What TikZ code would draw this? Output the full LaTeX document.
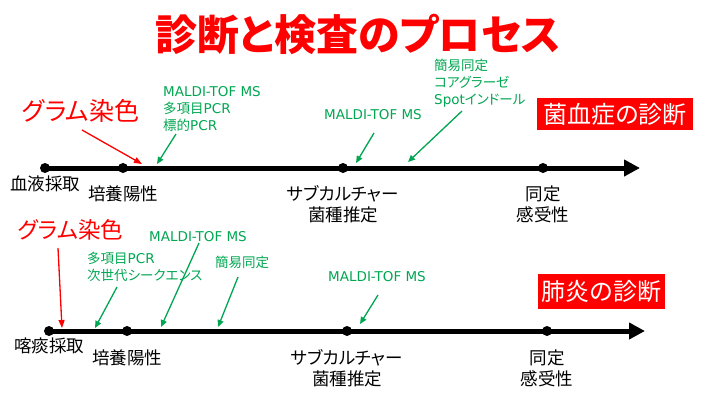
\documentclass[tikz,border=0pt]{standalone}
\usepackage{fontspec}
\setmainfont{Noto Sans CJK JP}[RawFeature=+palt]
\newfontfamily\latin{DejaVu Sans}
\usetikzlibrary{arrows.meta, positioning}
\definecolor{jred}{RGB}{255,0,0}
\definecolor{jgreen}{RGB}{0,166,81}
\tikzset{
  dot/.style={circle, fill=black, inner sep=0pt, minimum size=10pt},
  steplabel/.style={font=\fontsize{17.5}{21}\selectfont, align=center, inner sep=0pt},
  method/.style={text=jgreen, font=\fontsize{13.5}{17}\selectfont, align=left, inner sep=0pt},
  gram/.style={text=jred, inner sep=0pt, anchor=west},
  titletext/.style={text=jred, font=\fontsize{42}{46}\selectfont\bfseries, inner sep=0pt},
  timeline/.style={line width=5pt, -{Triangle[length=16pt, width=16pt]}},
  methodarrow/.style={draw=jgreen, line width=1.3pt, -{Triangle[length=7pt, width=6pt]}},
  gramarrow/.style={draw=jred, line width=1.3pt, -{Triangle[length=8pt, width=6pt]}},
  diagbox/.style={fill=jred, text=white, font=\fontsize{24}{26}\selectfont, inner sep=0pt},
}
\begin{document}
\begin{tikzpicture}[x=1pt, y=-1pt]
  \useasboundingbox (0,0) rectangle (720,405);
  %% title
  \node[titletext] (ttl) at (358,34) {診断と検査のプロセス};

  %% bacteremia timeline
  \node[dot] (bl) at (45,168) {};
  \node[dot] (bc1) at (123,168) {};
  \node[dot] (sc1) at (343,168) {};
  \node[dot] (id1) at (543,168) {};
  \coordinate (e1) at (640,168);
  \draw[timeline] (bl.center) -- (e1);
  \node[steplabel, below=2pt of bl] (bllab) {血液採取};
  \node[steplabel, below=12pt of bc1] (bc1lab) {培養陽性};
  \node[steplabel, below=12pt of sc1] (sc1lab) {サブカルチャー\\菌種推定};
  \node[steplabel, below=12pt of id1] (id1lab) {同定\\感受性};
  \node[diagbox, minimum width=156pt, minimum height=32pt] (dx1) at (615,114) {菌血症の診断};

  %% bacteremia tests
  \node[gram, font=\fontsize{25}{27}\selectfont] (gr1) at (22,111) {グラム染色};
  \coordinate (gr1s) at (82,130);
  \coordinate (gr1e) at (142,164);
  \draw[gramarrow] (gr1s) -- (gr1e);
  \node[method, anchor=north west] (m1) at (163,86)
    {{\latin MALDI-TOF MS}\\多項目{\latin PCR}\\標的{\latin PCR}};
  \coordinate (m1s) at (176,134);
  \coordinate (m1e) at (157,164);
  \draw[methodarrow] (m1s) -- (m1e);
  \node[method, anchor=west] (m2) at (324,115) {\latin MALDI-TOF MS};
  \coordinate (m2s) at (374,133);
  \coordinate (m2e) at (356,163);
  \draw[methodarrow] (m2s) -- (m2e);
  \node[method, anchor=north west] (m3) at (434,59)
    {簡易同定\\コアグラーゼ\\{\latin Spot}インドール};
  \coordinate (m3s) at (462,111);
  \coordinate (m3e) at (408,162);
  \draw[methodarrow] (m3s) -- (m3e);

  %% pneumonia timeline
  \node[dot] (sp) at (49,331) {};
  \node[dot] (bc2) at (127,331) {};
  \node[dot] (sc2) at (347,331) {};
  \node[dot] (id2) at (547,331) {};
  \coordinate (e2) at (645,331);
  \draw[timeline] (sp.center) -- (e2);
  \node[steplabel, below=1pt of sp] (splab) {喀痰採取};
  \node[steplabel, below=13pt of bc2] (bc2lab) {培養陽性};
  \node[steplabel, below=13pt of sc2] (sc2lab) {サブカルチャー\\菌種推定};
  \node[steplabel, below=13pt of id2] (id2lab) {同定\\感受性};
  \node[diagbox, minimum width=127pt, minimum height=35pt] (dx2) at (601.5,291.5) {肺炎の診断};

  %% pneumonia tests
  \node[gram, font=\fontsize{22.5}{24}\selectfont] (gr2) at (18,230) {グラム染色};
  \coordinate (gr2s) at (58,248);
  \coordinate (gr2e) at (62,328);
  \draw[gramarrow] (gr2s) -- (gr2e);
  \node[method, anchor=north west] (m4) at (87,252)
    {多項目{\latin PCR}\\次世代シークエンス};
  \coordinate (m4s) at (117,287);
  \coordinate (m4e) at (95,328);
  \draw[methodarrow] (m4s) -- (m4e);
  \node[method, anchor=west] (m5) at (149,237) {\latin MALDI-TOF MS};
  \coordinate (m5s) at (199,243);
  \coordinate (m5e) at (161,327);
  \draw[methodarrow] (m5s) -- (m5e);
  \node[method, anchor=west] (m6) at (215,262) {簡易同定};
  \coordinate (m6s) at (238,277);
  \coordinate (m6e) at (218,327);
  \draw[methodarrow] (m6s) -- (m6e);
  \node[method, anchor=west] (m7) at (328,277) {\latin MALDI-TOF MS};
  \coordinate (m7s) at (378,295);
  \coordinate (m7e) at (360,324);
  \draw[methodarrow] (m7s) -- (m7e);
\end{tikzpicture}
\end{document}
